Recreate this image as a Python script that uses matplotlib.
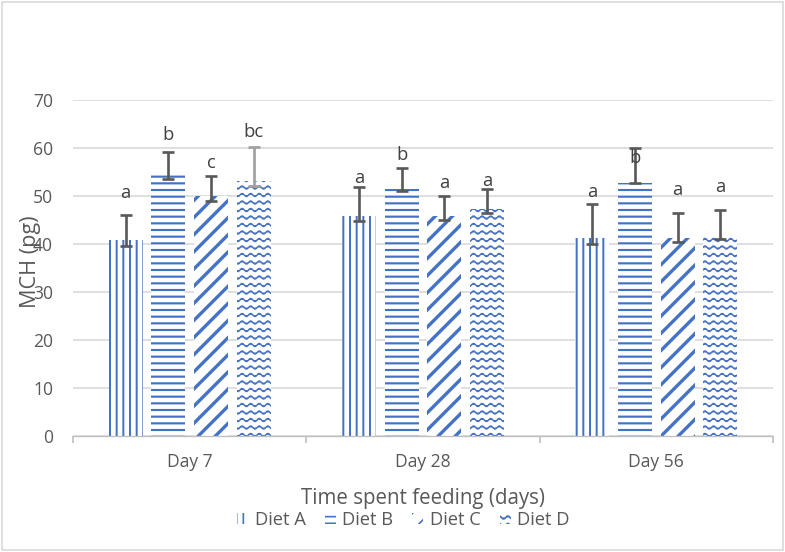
import warnings
import numpy as np
import matplotlib
matplotlib.use("Agg")
from matplotlib import pyplot as plt
from matplotlib import hatch as mhatch
from matplotlib.path import Path
from matplotlib.patches import Patch, Rectangle

warnings.filterwarnings("ignore")

# data
days = ["Day 7", "Day 28", "Day 56"]
diets = ["Diet A", "Diet B", "Diet C", "Diet D"]
mch = {
    "Diet A": [40.8, 45.8, 41.2],
    "Diet B": [54.4, 51.5, 52.8],
    "Diet C": [50.0, 45.8, 41.3],
    "Diet D": [53.1, 47.3, 41.9],
}
err_up = {
    "Diet A": [5.2, 6.1, 7.1],
    "Diet B": [4.7, 4.4, 7.1],
    "Diet C": [4.2, 4.3, 5.2],
    "Diet D": [7.2, 4.2, 5.2],
}
err_down = {
    "Diet A": [1.2, 1.0, 1.1],
    "Diet B": [0.9, 0.4, 0.1],
    "Diet C": [1.0, 0.9, 0.9],
    "Diet D": [1.0, 0.9, 0.9],
}
letters = {
    "Diet A": ["a", "a", "a"],
    "Diet B": ["b", "b", "b"],
    "Diet C": ["c", "a", "a"],
    "Diet D": ["bc", "a", "a"],
}
letter_y = {
    "Diet A": [50.6, 53.7, 50.8],
    "Diet B": [62.7, 58.5, 57.9],
    "Diet C": [56.9, 52.8, 51.2],
    "Diet D": [63.3, 53.2, 51.8],
}


# excel-like pattern fills: 'w' = wave, 'd' = wide upward diagonal
class WaveHatch(mhatch.HatchPatternBase):
    def __init__(self, hatch, density):
        self.num_lines = 16 * hatch.count('w')
        self.num_pts = 141
        self.num_vertices = (self.num_lines + 1) * self.num_pts if self.num_lines else 0

    def set_vertices_and_codes(self, vertices, codes):
        n = self.num_lines
        xs = np.linspace(0, 1, self.num_pts)
        amp = 0.0125
        k = 0
        for i in range(n + 1):
            vertices[k:k + self.num_pts, 0] = xs
            vertices[k:k + self.num_pts, 1] = i / n + amp * np.sin(2 * np.pi * 14 * xs)
            codes[k] = Path.MOVETO
            codes[k + 1:k + self.num_pts] = Path.LINETO
            k += self.num_pts


class DiagHatch(mhatch.HatchPatternBase):
    def __init__(self, hatch, density):
        self.num_lines = 14 * hatch.count('d')
        self.num_vertices = (self.num_lines + 1) * 2 if self.num_lines else 0

    def set_vertices_and_codes(self, vertices, codes):
        n = self.num_lines
        steps = np.linspace(-0.5, 0.5, n + 1)
        vertices[0::2, 0] = 0.0 + steps
        vertices[0::2, 1] = 0.0 - steps
        vertices[1::2, 0] = 1.0 + steps
        vertices[1::2, 1] = 1.0 - steps
        codes[0::2] = Path.MOVETO
        codes[1::2] = Path.LINETO


mhatch._hatch_types.append(WaveHatch)
mhatch._hatch_types.append(DiagHatch)

blue = "#4472C4"
hatches = {"Diet A": "|||", "Diet B": "---", "Diet C": "d", "Diet D": "w"}
hlw = {"Diet A": 1.2, "Diet B": 1.3, "Diet C": 2.0, "Diet D": 0.9}
ecolors = {"Diet A": ["#595959"] * 3, "Diet B": ["#595959"] * 3,
           "Diet C": ["#595959"] * 3, "Diet D": ["#a0a0a0", "#595959", "#595959"]}

plt.rcParams['font.family'] = ['Open Sans', 'DejaVu Sans']

DPI = 120
fig = plt.figure(figsize=(785 / DPI, 552 / DPI), dpi=DPI)
ax = fig.add_axes([73 / 785, 1 - 436 / 552, 700 / 785, 336 / 552])

x = np.arange(len(days))
w = 0.146
step = 0.183
handles = []
for i, d in enumerate(diets):
    pos = x + (i - 1.5) * step
    with plt.rc_context({'hatch.linewidth': hlw[d]}):
        bars = ax.bar(pos, mch[d], w, facecolor="white", edgecolor=blue,
                      linewidth=0, hatch=hatches[d], zorder=2)
        for b in bars:
            if hasattr(b, "set_hatch_linewidth"):
                b.set_hatch_linewidth(hlw[d])
        hp = Patch(facecolor="white", edgecolor=blue, linewidth=0, hatch=hatches[d])
        if hasattr(hp, "set_hatch_linewidth"):
            hp.set_hatch_linewidth(hlw[d])
    handles.append(hp)
    for j in range(len(days)):
        ax.errorbar(pos[j], mch[d][j], yerr=[[err_down[d][j]], [err_up[d][j]]],
                    fmt='none', ecolor=ecolors[d][j], elinewidth=1.6, capsize=3.5,
                    capthick=1.6, zorder=3)
        ax.text(pos[j], letter_y[d][j], letters[d][j], ha='center', va='center',
                fontsize=11, color="#404040", zorder=4)

ax.set_ylim(0, 70)
ax.set_xlim(-0.5, 2.5)
ax.set_yticks(range(0, 71, 10))
ax.set_xticks(x)
ax.set_xticklabels(days)
ax.set_xticks([-0.5, 0.5, 1.5, 2.5], minor=True)
ax.tick_params(axis='x', which='major', length=0, pad=10, labelsize=10.5, labelcolor="#595959")
ax.tick_params(axis='x', which='minor', length=4, color="#bfbfbf", width=1)
ax.tick_params(axis='y', length=0, pad=12, labelsize=10.5, labelcolor="#595959")
ax.yaxis.grid(True, color="#d9d9d9", linewidth=1)
ax.set_axisbelow(True)
for s in ["left", "right", "top"]:
    ax.spines[s].set_visible(False)
ax.spines["bottom"].set_color("#bfbfbf")

ax.set_ylabel("MCH (pg)", fontsize=13, color="#595959")
ax.yaxis.set_label_coords(-0.046, 0.52)
ax.set_xlabel("Time spent feeding (days)", fontsize=12.3, color="#595959")
ax.xaxis.set_label_coords(0.5, -0.155)

fig.legend(handles, diets, loc='center', bbox_to_anchor=(0.514, 0.058), ncol=4,
           frameon=False, fontsize=11, handlelength=0.6, handleheight=0.6,
           handletextpad=0.35, columnspacing=1.05, labelcolor="#595959")

fig.patches.append(Rectangle((0.003, 0.004), 0.994, 0.992, transform=fig.transFigure,
                             fill=False, edgecolor="#d9d9d9", linewidth=1))

plt.savefig("out.png", dpi=DPI)
